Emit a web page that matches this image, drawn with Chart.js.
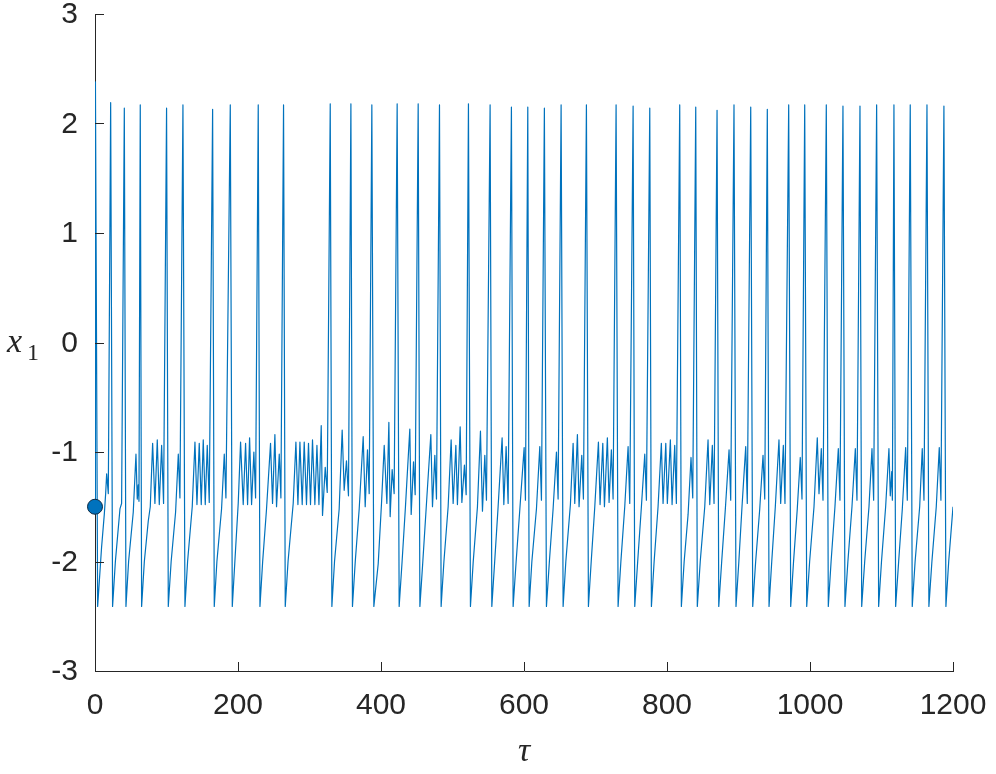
<!DOCTYPE html>
<html>
<head>
<meta charset="utf-8">
<script src="https://cdn.jsdelivr.net/npm/chart.js@4.4.1/dist/chart.umd.min.js"></script>
<style>
  html, body { margin: 0; padding: 0; background: #fff; }
</style>
</head>
<body>
<canvas id="chart" width="996" height="774"></canvas>
<script>
// time samples of the trace (tau) and the x1 value at each sample, one line per inter-spike interval
const tau = [
  0, 0.6, 3.7, 9.2, 13.0, 14.9, 16.3, 18.6, 21.9, 24.6,
  28.5, 34.9, 37.2, 41.0, 43.3,
  47, 53.5, 57.3, 59.1, 60.5, 61.5, 63.3, 65.2,
  69, 74.5, 77.3, 80.6, 83.8, 87.1, 89.9, 93.2, 95.9, 100.1, 102.5,
  106.5, 112.7, 116.5, 118.8, 123.0, 125.8,
  129.5, 136.0, 139.8, 142.6, 145.8, 148.6, 151.4, 154.2, 157.0, 159.8, 164.5, 166.8,
  170.5, 177.0, 180.8, 183.1, 189.2, 192.0,
  196.5, 200.3, 203.6, 207.3, 210.6, 213.4, 216.2, 219.0, 222.2, 224.6, 228.3, 230.7,
  234.5, 239.9, 245.5, 248.3, 251.6, 253.9, 257.7, 260.0, 263.7, 266.1,
  270, 277.2, 281.0, 283.8, 286.6, 289.8, 292.6, 295.8, 298.6, 301.4, 304.2, 307.5, 310.4, 313.2, 316.4, 318.2, 322.0, 324.8, 329.0, 331.3,
  335, 341.5, 345.7, 348.5, 351.7, 354.5, 357.9, 360.1,
  364, 369.5, 375.1, 377.9, 381.1, 383.5, 387.2, 390.0,
  396.1, 400.7, 404.5, 408.2, 411.0, 412.8, 415.6, 418.4, 422.6, 425.4,
  429.5, 434.2, 440.3, 442.2, 445.5, 447.8, 452.0, 454.4,
  458.5, 463.6, 469.7, 472.0, 475.3, 477.6, 481.8, 484.1,
  488, 493.9, 498.1, 500.9, 504.7, 506.9, 510.7, 513.1, 516.7, 519.1, 522.3, 525.1,
  529, 534.9, 539.1, 541.9, 545.2, 547.5, 552.6, 555.0,
  559, 563.8, 569.4, 571.8, 575.0, 577.8, 582.4, 584.8,
  589, 594.2, 600.2, 602.0, 605.3, 607.2,
  611, 617.4, 622.1, 624.4, 628.5, 631.4,
  635.5, 640.7, 645.4, 647.7, 651.9, 654.7,
  658.5, 664.9, 668.7, 671.0, 674.7, 677.0, 680.8, 683.1, 687.3, 690.1,
  694, 699.0, 704.1, 706.4, 710.2, 712.5, 716.6, 719.0, 722.2, 724.6, 728.8, 731.6,
  735.5, 740.9, 745.6, 747.9, 752.6, 754.9,
  759, 764.2, 768.9, 771.2, 775.9, 778.2,
  782, 787.5, 792.1, 794.5, 798.3, 800.5, 804.7, 807.1, 810.8, 813.1, 817.8, 820.1,
  824, 829.5, 833.6, 836.0, 840.2, 842.4,
  846.5, 852.8, 857.4, 859.8, 863.4, 865.8, 870.0, 872.4,
  876.5, 881.6, 886.8, 889.1, 893.7, 896.5,
  900.5, 904.9, 910.1, 912.3, 917.1, 919.9,
  924, 929.7, 934.3, 936.7, 940.3, 942.7,
  946.5, 951.5, 956.6, 959.0, 962.7, 965.0, 970.2, 973.0,
  977, 982.2, 986.4, 988.8, 992.6, 995.4,
  999.5, 1005.6, 1010.2, 1012.6, 1015.8, 1018.2, 1022.8, 1025.6,
  1029.5, 1034.9, 1039.6, 1041.9, 1046.1, 1048.9,
  1053, 1058.7, 1063.4, 1065.7, 1069.9, 1072.3,
  1076.5, 1082.5, 1086.7, 1089.0, 1093.2, 1096.0,
  1100, 1105.8, 1110.4, 1112.3, 1114.3, 1115.2, 1117.4, 1119.8,
  1124, 1129.1, 1133.8, 1136.1, 1140.2, 1143.0,
  1147, 1153.4, 1157.0, 1159.4, 1163.6, 1166.3,
  1170.5, 1176.6, 1180.8, 1183.1, 1187.3, 1190.1,
  1194, 1200
];

const x1 = [
  -1.5, 2.38, -2.41, -1.87, -1.57, -1.38, -1.2, -1.38, 2.19, -2.41,
  -2.0, -1.52, -1.47, 2.14, -2.41,
  -2.0, -1.55, -1.02, -1.43, -1.3, -1.45, 2.17, -2.41,
  -2.0, -1.63, -1.5, -0.92, -1.47, -0.89, -1.48, -0.94, -1.47, 2.14, -2.41,
  -2.0, -1.55, -1.02, -1.42, 2.17, -2.41,
  -2.0, -1.5, -0.91, -1.48, -0.92, -1.48, -0.89, -1.48, -0.94, -1.46, 2.13, -2.41,
  -2.0, -1.52, -1.02, -1.42, 2.17, -2.41,
  -1.9, -1.47, -0.91, -1.48, -0.92, -1.48, -0.87, -1.48, -1.0, -1.42, 2.17, -2.41,
  -2.0, -1.52, -0.92, -1.47, -0.84, -1.5, -1.02, -1.42, 2.17, -2.41,
  -2.0, -1.47, -0.91, -1.48, -0.91, -1.48, -0.91, -1.48, -0.92, -1.48, -0.89, -1.48, -0.94, -1.48, -0.76, -1.58, -1.14, -1.37, 2.18, -2.41,
  -2.0, -1.52, -0.8, -1.35, -1.08, -1.4, 2.18, -2.41,
  -2.0, -1.52, -0.86, -1.5, -0.98, -1.38, 2.17, -2.41,
  -2.02, -1.47, -0.94, -1.47, -0.73, -1.59, -1.16, -1.38, 2.18, -2.41,
  -2.0, -1.5, -0.79, -1.57, -1.09, -1.39, 2.18, -2.41,
  -2.0, -1.47, -0.84, -1.5, -1.03, -1.43, 2.17, -2.41,
  -2.0, -1.5, -0.89, -1.47, -0.94, -1.48, -0.77, -1.46, -1.12, -1.39, 2.18, -2.41,
  -2.0, -1.5, -0.81, -1.54, -1.03, -1.44, 2.17, -2.41,
  -2.0, -1.5, -0.87, -1.48, -0.95, -1.47, 2.15, -2.41,
  -2.0, -1.52, -0.96, -1.44, 2.15, -2.41,
  -2.0, -1.52, -0.95, -1.44, 2.14, -2.41,
  -2.0, -1.52, -1.0, -1.43, 2.17, -2.41,
  -2.0, -1.48, -0.92, -1.47, -0.84, -1.5, -1.03, -1.43, 2.17, -2.41,
  -2.0, -1.5, -0.91, -1.48, -0.92, -1.5, -0.87, -1.46, -0.98, -1.43, 2.17, -2.41,
  -2.0, -1.5, -0.95, -1.47, 2.16, -2.41,
  -2.0, -1.5, -1.02, -1.44, 2.14, -2.41,
  -2.0, -1.5, -0.92, -1.47, -0.92, -1.47, -0.89, -1.48, -0.94, -1.47, 2.17, -2.41,
  -2.0, -1.57, -1.05, -1.42, 2.15, -2.41,
  -2.0, -1.5, -0.89, -1.48, -0.94, -1.47, 2.12, -2.41,
  -2.0, -1.52, -0.98, -1.44, 2.17, -2.41,
  -2.0, -1.5, -0.95, -1.47, 2.15, -2.41,
  -2.0, -1.52, -1.03, -1.43, 2.13, -2.41,
  -2.0, -1.5, -0.89, -1.47, -0.94, -1.47, 2.17, -2.41,
  -2.0, -1.52, -1.05, -1.43, 2.17, -2.41,
  -2.0, -1.5, -0.87, -1.38, -0.97, -1.44, 2.17, -2.41,
  -2.0, -1.5, -0.97, -1.44, 2.16, -2.41,
  -2.0, -1.5, -0.97, -1.44, 2.16, -2.41,
  -2.0, -1.5, -0.97, -1.44, 2.17, -2.41,
  -2.0, -1.5, -0.97, -1.4, -1.18, -1.44, 2.17, -2.41,
  -2.0, -1.52, -0.96, -1.44, 2.17, -2.41,
  -2.0, -1.5, -0.97, -1.44, 2.17, -2.41,
  -2.0, -1.5, -0.96, -1.44, 2.16, -2.41,
  -2.0, -1.5
];

// initial condition marker
const startTau = [0];
const startX1 = [-1.5];

const xTicks = [0, 200, 400, 600, 800, 1000, 1200];
const yTicks = [-3, -2, -1, 0, 1, 2, 3];

const lineColor = '#0072BD';
const axisColor = '#262626';
const tickFont = '30px "Liberation Sans", Arial, sans-serif';

// MATLAB-style inward ticks, tick labels and the axis symbols
const axisDecor = {
    id: 'axisDecor',
    afterDraw(chart) {
        const { ctx, chartArea: a, scales } = chart;
        ctx.save();
        ctx.strokeStyle = axisColor;
        ctx.lineWidth = 1;
        ctx.beginPath();
        for (const v of yTicks) {
            const py = Math.round(scales.y.getPixelForValue(v)) + 0.5;
            ctx.moveTo(a.left, py);
            ctx.lineTo(a.left + 9, py);
        }
        for (const v of xTicks) {
            const px = Math.round(scales.x.getPixelForValue(v)) + 0.5;
            ctx.moveTo(px, a.bottom);
            ctx.lineTo(px, a.bottom - 9);
        }
        ctx.stroke();

        ctx.fillStyle = axisColor;
        ctx.font = tickFont;
        ctx.textBaseline = 'middle';
        ctx.textAlign = 'right';
        for (const v of yTicks) {
            ctx.fillText(String(v), a.left - 17, scales.y.getPixelForValue(v) + 1);
        }
        ctx.textAlign = 'center';
        for (const v of xTicks) {
            ctx.fillText(String(v), scales.x.getPixelForValue(v), a.bottom + 35);
        }

        ctx.textBaseline = 'alphabetic';
        ctx.textAlign = 'left';
        ctx.font = 'italic 34px "Liberation Serif"';
        ctx.fillText('x', 7, 352);
        ctx.font = '24px "Liberation Serif"';
        ctx.fillText('1', 27, 360);
        ctx.textAlign = 'center';
        ctx.font = 'italic 34px "Liberation Serif"';
        ctx.fillText('τ', 524, 761);
        ctx.restore();
    }
};

new Chart(document.getElementById('chart'), {
    type: 'line',
    data: {
        datasets: [
            {
                data: startTau.map((t, i) => ({ x: t, y: startX1[i] })),
                showLine: false,
                pointRadius: 7.5,
                pointBackgroundColor: lineColor,
                pointBorderColor: '#0b2a44',
                pointBorderWidth: 1,
                clip: false
            },
            {
                data: tau.map((t, i) => ({ x: t, y: x1[i] })),
                borderColor: lineColor,
                borderWidth: 1.2,
                borderJoinStyle: 'round',
                pointRadius: 0,
                tension: 0,
                fill: false
            }
        ]
    },
    options: {
        responsive: false,
        devicePixelRatio: 1,
        animation: false,
        events: [],
        layout: { padding: { left: 0, right: 43, top: 14, bottom: 0 } },
        plugins: { legend: { display: false }, tooltip: { enabled: false } },
        scales: {
            x: {
                type: 'linear',
                min: 0,
                max: 1200,
                afterFit: (s) => { s.height = 103; },
                grid: { display: false, drawTicks: false },
                border: { display: true, color: axisColor, width: 1 },
                ticks: { display: false }
            },
            y: {
                min: -3,
                max: 3,
                afterFit: (s) => { s.width = 95; },
                grid: { display: false, drawTicks: false },
                border: { display: true, color: axisColor, width: 1 },
                ticks: { display: false }
            }
        }
    },
    plugins: [axisDecor]
});
</script>
</body>
</html>
